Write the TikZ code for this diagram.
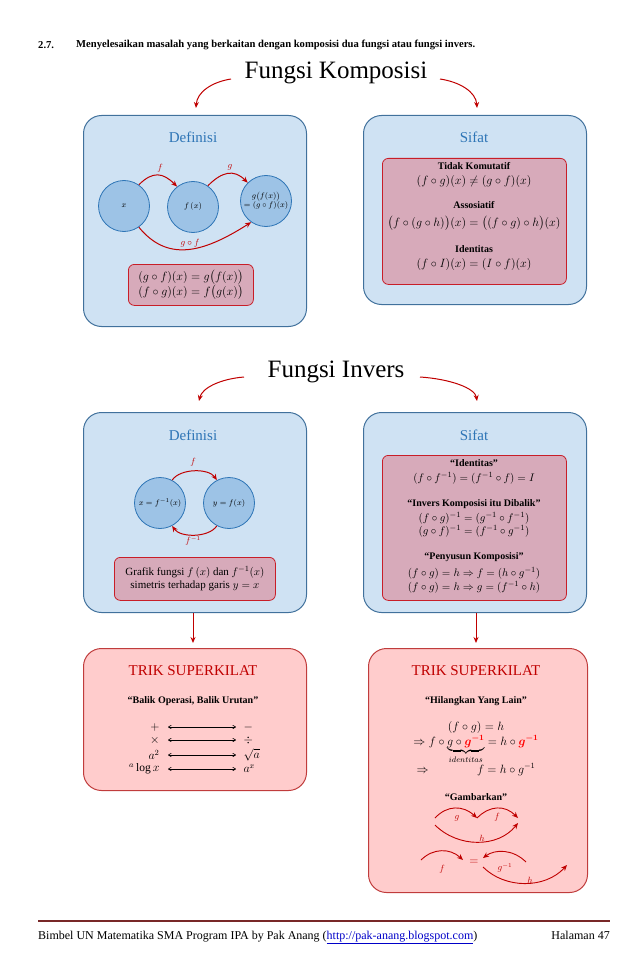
\documentclass[tikz,border=0pt]{standalone}
\usepackage{amsmath}
\usepackage{fontspec}
\setmainfont{Liberation Serif}
\usetikzlibrary{arrows.meta}
\definecolor{panelfill}{RGB}{207,226,243}
\definecolor{panelborder}{RGB}{65,113,156}
\definecolor{titleblue}{RGB}{46,117,182}
\definecolor{circfill}{RGB}{157,195,230}
\definecolor{circborder}{RGB}{46,117,182}
\definecolor{boxfill}{RGB}{215,170,186}
\definecolor{boxborder}{RGB}{200,30,40}
\definecolor{trikfill}{RGB}{255,204,204}
\definecolor{trikborder}{RGB}{192,60,60}
\definecolor{arrred}{RGB}{192,0,0}
\definecolor{footline}{RGB}{120,40,40}
\definecolor{linkblue}{RGB}{0,0,200}
\tikzset{
  panel/.style={draw=panelborder, fill=panelfill, rounded corners=18pt, line width=1pt, anchor=north west, inner sep=0pt},
  redbox/.style={draw=boxborder, fill=boxfill, rounded corners=6pt, line width=0.8pt, anchor=north west, inner sep=0pt},
  trikbox/.style={draw=trikborder, fill=trikfill, rounded corners=18pt, line width=1pt, anchor=north west, inner sep=0pt},
  circ/.style={circle, draw=circborder, fill=circfill, minimum size=51pt, inner sep=0pt, line width=0.8pt, font=\fontsize{8}{9}\selectfont},
  rarr/.style={-{Stealth[length=6pt,width=5pt]}, draw=arrred, line width=1pt},
  sarr/.style={-{Stealth[length=6pt,width=5pt]}, draw=arrred, line width=0.9pt},
  dblarr/.style={{To[length=3.5pt,width=4pt]}-{To[length=3.5pt,width=4pt]}, line width=0.6pt},
  ptitle/.style={text=titleblue, font=\fontsize{15}{17}\selectfont},
  ttitle/.style={text=arrred, font=\fontsize{15}{17}\selectfont},
  head/.style={font=\bfseries\fontsize{10}{12}\selectfont},
  frm/.style={font=\fontsize{11.5}{13}\selectfont},
  frs/.style={font=\fontsize{11}{12}\selectfont},
  lbl/.style={text=arrred, font=\fontsize{9}{10}\selectfont, inner sep=1pt},
  big/.style={font=\fontsize{25}{28}\selectfont}
}
\begin{document}
\begin{tikzpicture}[x=1pt,y=-1pt]
\useasboundingbox (0,0) rectangle (638,976);
% header
\node[font=\bfseries\fontsize{10.6}{12}\selectfont, anchor=west, inner sep=0pt] (hnum) at (38,45) {2.7.};
\node[font=\bfseries\fontsize{10.6}{12}\selectfont, anchor=west, inner sep=0pt] (htxt) at (76,45) {Menyelesaikan masalah yang berkaitan dengan komposisi dua fungsi atau fungsi invers.};
% Fungsi Komposisi
\node[big] (fk) at (336,73) {Fungsi Komposisi};
\coordinate (fkl) at (231,79);
\coordinate (fkr) at (440,79);
\coordinate (p1top) at (196,108);
\coordinate (p2top) at (477,108);
\draw[rarr] (fkl) .. controls (212,82) and (197,92) .. (p1top);
\draw[rarr] (fkr) .. controls (460,82) and (476,92) .. (p2top);
% panel 1
\node[panel, minimum width=223pt, minimum height=211pt] (p1) at (83,115) {};
\node[ptitle] (p1t) at (193,137) {Definisi};
\node[circ] (c1) at (124,206) {$x$};
\node[circ] (c2) at (193,207) {$f\,(x)$};
\node[circ] (c3) at (266,201) {\begin{tabular}{@{}c@{}}$g\big(f(x)\big)$\\[-1pt]$=(g\circ f)(x)$\end{tabular}};
\draw[rarr] (c1.55) .. controls +(14,-14) and +(-14,-14) .. (c2.128);
\draw[rarr] (c2.55) .. controls +(14,-14) and +(-14,-14) .. (c3.135);
\draw[rarr] (c1.305) .. controls +(28,34) and +(-50,32) .. (c3.235);
\node[lbl] (lf1) at (160,168) {$f$};
\node[lbl] (lg1) at (230,167) {$g$};
\node[lbl] (lgf) at (190,243) {$g\circ f$};
\node[redbox, minimum width=125pt, minimum height=41pt] (b1) at (128,264) {};
\node[frm, align=center] (b1t) at (b1.center) {$(g\circ f)(x)=g\big(f(x)\big)$\\$(f\circ g)(x)=f\big(g(x)\big)$};
% panel 2
\node[panel, minimum width=223pt, minimum height=189pt] (p2) at (363,115) {};
\node[ptitle] (p2t) at (474,137) {Sifat};
\node[redbox, minimum width=184pt, minimum height=126pt] (b2) at (382,158) {};
\node[head] (h21) at (474,166) {Tidak Komutatif};
\node[frm] (f21) at (474,182) {$(f\circ g)(x)\neq(g\circ f)(x)$};
\node[head] (h22) at (474,205) {Assosiatif};
\node[frm] (f22) at (474,223) {$\big(f\circ(g\circ h)\big)(x)=\big((f\circ g)\circ h\big)(x)$};
\node[head] (h23) at (474,249) {Identitas};
\node[frm] (f23) at (474,264) {$(f\circ I)(x)=(I\circ f)(x)$};
% Fungsi Invers
\node[big] (fi) at (336,372) {Fungsi Invers};
\coordinate (fil) at (244,377);
\coordinate (fir) at (420,377);
\coordinate (p3top) at (199,401);
\coordinate (p4top) at (477,401);
\draw[rarr] (fil) .. controls (220,379) and (202,388) .. (p3top);
\draw[rarr] (fir) .. controls (450,379) and (475,388) .. (p4top);
% panel 3
\node[panel, minimum width=223pt, minimum height=200pt] (p3) at (83,412) {};
\node[ptitle] (p3t) at (193,435) {Definisi};
\node[circ] (cl) at (160,503) {$x=f^{-1}(x)$};
\node[circ] (cr) at (229,503) {$y=f(x)$};
\draw[rarr] (cl.62) .. controls +(8,-12) and +(-8,-12) .. (cr.118);
\draw[rarr] (cr.242) .. controls +(-8,12) and +(8,12) .. (cl.298);
\node[lbl] (lf3) at (193,462) {$f$};
\node[lbl] (lfi3) at (193,541) {$f^{-1}$};
\node[redbox, minimum width=161pt, minimum height=43pt] (b3) at (114,557) {};
\node[frm, align=center, font=\fontsize{11}{13}\selectfont] (b3t) at (b3.center) {Grafik fungsi $f\,(x)$ dan $f^{-1}(x)$\\simetris terhadap garis $y=x$};
% panel 4
\node[panel, minimum width=223pt, minimum height=200pt] (p4) at (363,412) {};
\node[ptitle] (p4t) at (474,435) {Sifat};
\node[redbox, minimum width=184pt, minimum height=145pt] (b4) at (382,455) {};
\node[head] (h41) at (474,463) {``Identitas''};
\node[frs] (f41) at (474,478) {$(f\circ f^{-1})=(f^{-1}\circ f)=I$};
\node[head] (h42) at (474,504) {``Invers Komposisi itu Dibalik''};
\node[frs] (f42) at (474,518) {$(f\circ g)^{-1}=(g^{-1}\circ f^{-1})$};
\node[frs] (f43) at (474,531) {$(g\circ f)^{-1}=(f^{-1}\circ g^{-1})$};
\node[head] (h43) at (474,557) {``Penyusun Komposisi''};
\node[frs] (f44) at (474,573) {$(f\circ g)=h\Rightarrow f=(h\circ g^{-1})$};
\node[frs] (f45) at (474,587) {$(f\circ g)=h\Rightarrow g=(f^{-1}\circ h)$};
% down arrows
\coordinate (d3) at (193,643);
\coordinate (d4) at (476,643);
\draw[rarr] (p3.south -| d3) -- (d3);
\draw[rarr] (p4.south -| d4) -- (d4);
% panel 5
\node[trikbox, minimum width=223pt, minimum height=142pt] (p5) at (83,648) {};
\node[ttitle] (p5t) at (193,671) {TRIK SUPERKILAT};
\node[head] (h51) at (193,701) {``Balik Operasi, Balik Urutan''};
\node[frm, anchor=east] (l51) at (163,727) {$+$};
\node[frm, anchor=east] (l52) at (163,740) {$\times$};
\node[frm, anchor=east] (l53) at (163,755) {$a^2$};
\node[frm, anchor=east] (l54) at (163,769) {${}^a\log x$};
\node[frm, anchor=west] (r51) at (240,727) {$-$};
\node[frm, anchor=west] (r52) at (240,740) {$\div$};
\node[frm, anchor=west] (r53) at (240,755) {$\sqrt{a}$};
\node[frm, anchor=west] (r54) at (240,769) {$a^x$};
\foreach \i in {1,2,3,4}{
  \draw[dblarr] (l5\i.east) ++(5,0) coordinate (s\i) -- (r5\i.west -| 236,0);
}
% panel 6
\node[trikbox, minimum width=219pt, minimum height=244pt] (p6) at (368,648) {};
\node[ttitle] (p6t) at (476,671) {TRIK SUPERKILAT};
\node[head] (h61) at (476,701) {``Hilangkan Yang Lain''};
\node[frm] (f61) at (476,727) {$(f\circ g)=h$};
\node[frm, anchor=base] (f62) at (476,745) {$\Rightarrow f\circ \underbrace{g\circ \textcolor{red}{\boldsymbol{g^{-1}}}}_{identitas}=h\circ\textcolor{red}{\boldsymbol{g^{-1}}}$};
\node[frm, anchor=base west] (f63a) at (413,773) {$\Rightarrow$};
\node[frm, anchor=base east] (f63b) at (539,773) {$f=h\circ g^{-1}$};
\node[head] (h62) at (476,797) {``Gambarkan''};
\coordinate (a1) at (435,818);
\coordinate (a2) at (477,818);
\coordinate (a3) at (518,818);
\coordinate (a4) at (435,825);
\coordinate (a5) at (518,823);
\draw[sarr] (a1) .. controls (447,805) and (463,805) .. (a2);
\draw[sarr] (a2) .. controls (490,805) and (505,805) .. (a3);
\draw[sarr] (a4) .. controls (458,848) and (498,848) .. (a5);
\node[lbl] (lg6) at (457,818) {$g$};
\node[lbl] (lf6) at (497,817) {$f$};
\node[lbl] (lh6) at (482,838) {$h$};
\coordinate (b1s) at (421,860);
\coordinate (b1e) at (463,860);
\coordinate (b2s) at (526,862);
\coordinate (b2e) at (483,858);
\coordinate (b3s) at (483,867);
\coordinate (b3e) at (567,865);
\draw[sarr] (b1s) .. controls (433,848) and (450,848) .. (b1e);
\draw[sarr] (b2s) .. controls (513,849) and (495,849) .. (b2e);
\draw[sarr] (b3s) .. controls (505,889) and (545,889) .. (b3e);
\node[lbl] (lf7) at (442,869) {$f$};
\node[text=arrred, font=\fontsize{12}{13}\selectfont] (eq7) at (474,862) {$=$};
\node[lbl] (lgi7) at (505,868) {$g^{-1}$};
\node[lbl] (lh7) at (530,880) {$h$};
% footer
\coordinate (fl1) at (38,921);
\coordinate (fl2) at (610,921);
\draw[footline, line width=2.5pt] (fl1) -- (fl2);
\node[anchor=base west, inner sep=0pt, font=\fontsize{12}{14}\selectfont] (ft1) at (38,939) {Bimbel UN Matematika SMA Program IPA by Pak Anang (\textcolor{linkblue}{\underline{http://pak-anang.blogspot.com}})};
\node[anchor=base east, inner sep=0pt, font=\fontsize{12}{14}\selectfont] (ft2) at (610,939) {Halaman 47};
\end{tikzpicture}
\end{document}
